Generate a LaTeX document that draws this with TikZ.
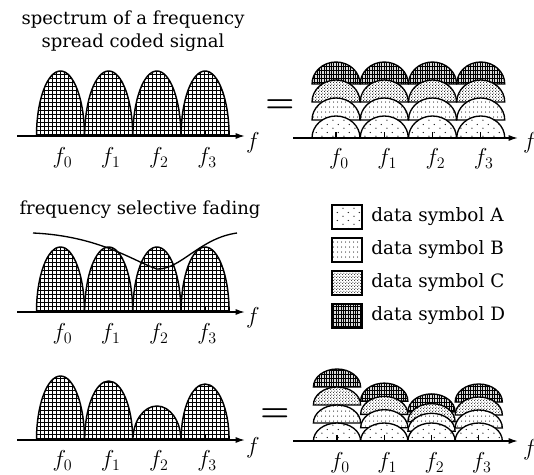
\documentclass[tikz,border=0pt]{standalone}
\usepackage{amsmath,amssymb}
\usepackage{fontspec}
\setmainfont{DejaVu Serif}
\usepackage{tikz}
\usetikzlibrary{arrows.meta,positioning,calc,patterns}
% fill patterns
\pgfdeclarepatternformonly{meshgrid}{\pgfqpoint{-1pt}{-1pt}}{\pgfqpoint{4pt}{4pt}}{\pgfqpoint{3pt}{3pt}}{%
  \pgfsetlinewidth{0.45pt}
  \pgfpathmoveto{\pgfqpoint{0pt}{0pt}}\pgfpathlineto{\pgfqpoint{0pt}{3.1pt}}
  \pgfpathmoveto{\pgfqpoint{0pt}{0pt}}\pgfpathlineto{\pgfqpoint{3.1pt}{0pt}}
  \pgfusepath{stroke}}
\pgfdeclarepatternformonly{symA}{\pgfqpoint{0pt}{0pt}}{\pgfqpoint{8pt}{6pt}}{\pgfqpoint{8pt}{6pt}}{%
  \pgfpathcircle{\pgfqpoint{1.5pt}{1.5pt}}{0.5pt}
  \pgfpathcircle{\pgfqpoint{5.5pt}{4.5pt}}{0.5pt}
  \pgfusepath{fill}}
\pgfdeclarepatternformonly{symB}{\pgfqpoint{0pt}{0pt}}{\pgfqpoint{3pt}{3.5pt}}{\pgfqpoint{3pt}{3.5pt}}{%
  \pgfpathcircle{\pgfqpoint{1.5pt}{1.5pt}}{0.45pt}
  \pgfusepath{fill}}
\pgfdeclarepatternformonly{symC}{\pgfqpoint{0pt}{0pt}}{\pgfqpoint{2pt}{2pt}}{\pgfqpoint{2pt}{2pt}}{%
  \pgfpathcircle{\pgfqpoint{0.5pt}{0.5pt}}{0.4pt}
  \pgfpathcircle{\pgfqpoint{1.5pt}{1.5pt}}{0.4pt}
  \pgfusepath{fill}}
\pgfdeclarepatternformonly{symD}{\pgfqpoint{-1pt}{-1pt}}{\pgfqpoint{3pt}{4pt}}{\pgfqpoint{1.8pt}{3pt}}{%
  \pgfsetlinewidth{0.3pt}
  \pgfpathmoveto{\pgfqpoint{0pt}{0pt}}\pgfpathlineto{\pgfqpoint{0pt}{3.1pt}}
  \pgfpathmoveto{\pgfqpoint{0pt}{0pt}}\pgfpathlineto{\pgfqpoint{1.9pt}{0pt}}
  \pgfusepath{stroke}}
% one lobe of the spectrum: [half width]{style}{centre x}{base y}{height}
\newcommand{\lobe}[5][24]{%
  \path[#2] (#3-#1,#4) .. controls (#3-#1,#4-0.552*#5) and (#3-0.552*#1,#4-#5) .. (#3,#4-#5)
    .. controls (#3+0.552*#1,#4-#5) and (#3+#1,#4-0.552*#5) .. (#3+#1,#4) -- cycle;}
\tikzset{
  spectrumlobe/.style={draw,line width=1.1pt,preaction={fill=white},pattern=meshgrid},
  layerA/.style={draw,line width=1pt,preaction={fill=white},pattern=symA},
  layerB/.style={draw,line width=1pt,preaction={fill=white},pattern=symB},
  layerC/.style={draw,line width=1pt,preaction={fill=white},pattern=symC},
  layerD/.style={draw,line width=1pt,preaction={fill=black!14},pattern=symD},
  axisline/.style={line width=1.1pt,-{Latex[length=7pt,width=4.5pt]}},
  tickmark/.style={line width=0.8pt},
  freqlabel/.style={font=\fontsize{18}{20}\selectfont,inner sep=1pt},
  captiontext/.style={font=\fontsize{13.5}{17.3}\selectfont,align=center},
  legendbox/.style={draw,line width=1.1pt,minimum width=22.5pt,minimum height=18pt,inner sep=0pt},
  legendtext/.style={font=\fontsize{13.8}{15}\selectfont,anchor=west},
  eqsign/.style={font=\fontsize{24}{26}\selectfont\boldmath}
}
\begin{document}
\begin{tikzpicture}[x=0.75pt,y=-0.75pt]
  \useasboundingbox (0,0) rectangle (534,474);
  % top left: spread spectrum
  \node[captiontext] (title) at (133,31) {spectrum of a frequency\\spread coded signal};
  \foreach \i in {0,...,3}{
    \pgfmathsetmacro\cx{60.5+48.2*\i}
    \lobe{spectrumlobe}{\cx}{136}{65}
    \draw[tickmark] (\cx,136) -- (\cx,131);
    \node[freqlabel] (tl\i) at (\cx+2,158) {$f_\i$};
  }
  \coordinate (tlstart) at (17,136);
  \coordinate (tlend) at (245,136);
  \draw[axisline] (tlstart) -- (tlend);
  \node[freqlabel] (tlf) at (253,143) {$f$};
  \node[eqsign] (eqtop) at (280,106) {$=$};
  % top right: four data symbols stacked on each carrier
  \foreach \i in {0,...,3}{
    \pgfmathsetmacro\cx{336+48.25*\i}
    \lobe{layerD}{\cx}{138-54}{22}
    \lobe{layerC}{\cx}{138-36}{22}
    \lobe{layerB}{\cx}{138-18}{22}
    \lobe{layerA}{\cx}{138}{22}
    \draw[tickmark] (\cx,138) -- (\cx,132);
    \node[freqlabel] (tr\i) at (\cx+3,159) {$f_\i$};
  }
  \coordinate (trstart) at (293,138);
  \coordinate (trend) at (518,138);
  \draw[axisline] (trstart) -- (trend);
  \node[freqlabel] (trf) at (530,143) {$f$};
  % middle: fading channel
  \node[captiontext] (fadetitle) at (140,210) {frequency selective fading};
  \foreach \i in {0,...,3}{
    \pgfmathsetmacro\cx{60.5+48.2*\i}
    \lobe{spectrumlobe}{\cx}{312}{65}
    \draw[tickmark] (\cx,312) -- (\cx,307);
    \node[freqlabel] (ml\i) at (\cx+2,334) {$f_\i$};
  }
  \coordinate (mlstart) at (17,312);
  \coordinate (mlend) at (245,312);
  \draw[axisline] (mlstart) -- (mlend);
  \node[freqlabel] (mlf) at (253,318) {$f$};
  \coordinate (fadeL) at (33,233);
  \coordinate (fadeM) at (157,269);
  \coordinate (fadeR) at (237,233);
  \draw[line width=1pt] (fadeL) .. controls (100,236) and (135,262) .. (fadeM)
    .. controls (180,270) and (200,238) .. (fadeR);
  % legend
  \foreach \s/\y in {A/217,B/250,C/283,D/316}{
    \node[legendbox,preaction={fill=white},pattern=sym\s] (box\s) at (347,\y) {};
    \node[legendtext,right=3pt of box\s] (txt\s) {data symbol \s};
  }
  \path[preaction={fill=black!14},pattern=symD] (boxD.south west) rectangle (boxD.north east);
  \node[legendbox] at (boxD) {};
  % bottom left: received spectrum
  \foreach \i/\h in {0/64,1/59,2/34,3/56}{
    \pgfmathsetmacro\cx{60.5+48.2*\i}
    \lobe{spectrumlobe}{\cx}{440}{\h}
    \draw[tickmark] (\cx,440) -- (\cx,435);
    \node[freqlabel] (bl\i) at (\cx+2,461) {$f_\i$};
  }
  \coordinate (blstart) at (17,440);
  \coordinate (blend) at (245,440);
  \draw[axisline] (blstart) -- (blend);
  \node[freqlabel] (blf) at (253,448) {$f$};
  \node[eqsign] (eqbot) at (275,415) {$=$};
  % bottom right: received data symbols
  \foreach \i/\s in {0/18,1/13.3,2/9.7,3/13}{
    \pgfmathsetmacro\cx{337+47.25*\i}
    \lobe[23.6]{layerD}{\cx}{441-3*\s}{18}
    \lobe[23.6]{layerC}{\cx}{441-2*\s}{18}
    \lobe[23.6]{layerB}{\cx}{441-\s}{18}
    \lobe[23.6]{layerA}{\cx}{441}{18}
    \draw[tickmark] (\cx,441) -- (\cx,435);
    \node[freqlabel] (br\i) at (\cx+3,463) {$f_\i$};
  }
  \coordinate (brstart) at (293,441);
  \coordinate (brend) at (518,441);
  \draw[axisline] (brstart) -- (brend);
  \node[freqlabel] (brf) at (530,450) {$f$};
\end{tikzpicture}
\end{document}
